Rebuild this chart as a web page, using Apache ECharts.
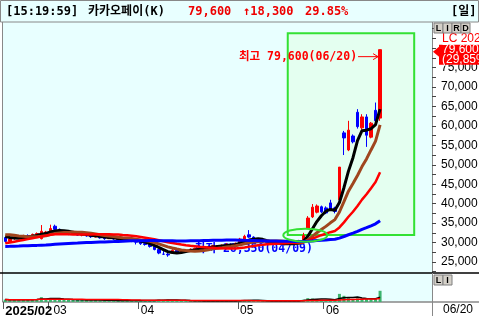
<!DOCTYPE html>
<html><head><meta charset="utf-8">
<script src="https://cdn.jsdelivr.net/npm/echarts@6/dist/echarts.min.js"></script>
<style>html,body{margin:0;padding:0;background:#fff;overflow:hidden}#c{width:479px;height:316px}</style>
</head><body><div id="c"></div>
<script>
// ---------------- data ----------------
const dates = [
 '2025/02/17','2025/02/18','2025/02/19','2025/02/20','2025/02/21','2025/02/24','2025/02/25','2025/02/26','2025/02/27','2025/02/28',
 '2025/03/04','2025/03/05','2025/03/06','2025/03/07','2025/03/10','2025/03/11','2025/03/12','2025/03/13','2025/03/14','2025/03/17',
 '2025/03/18','2025/03/19','2025/03/20','2025/03/21','2025/03/24','2025/03/25','2025/03/26','2025/03/27','2025/03/28','2025/03/31',
 '2025/04/01','2025/04/02','2025/04/03','2025/04/04','2025/04/07','2025/04/08','2025/04/09','2025/04/10','2025/04/11','2025/04/14',
 '2025/04/15','2025/04/16','2025/04/17','2025/04/18','2025/04/21','2025/04/22','2025/04/23','2025/04/24','2025/04/25','2025/04/28',
 '2025/04/29','2025/04/30',
 '2025/05/02','2025/05/07','2025/05/08','2025/05/09','2025/05/12','2025/05/13','2025/05/14','2025/05/15','2025/05/16','2025/05/19',
 '2025/05/20','2025/05/21','2025/05/22','2025/05/23','2025/05/26','2025/05/27','2025/05/28','2025/05/29','2025/05/30',
 '2025/06/02','2025/06/04','2025/06/05','2025/06/09','2025/06/10','2025/06/11','2025/06/12','2025/06/13','2025/06/16','2025/06/17',
 '2025/06/18','2025/06/19','2025/06/20'
];
const opens = [
 31300,30300,31000,31400,31300,31800,31500,32100,31000,32000,
 33000,34200,33400,32900,32500,32200,32400,31900,32000,31700,
 31400,31600,31200,31000,31300,30900,30800,30600,30900,30400,
 30100,29700,29500,29000,28200,27000,27000,27600,28000,27600,
 27800,28100,28300,28500,28700,29000,28900,29200,29100,29300,
 29600,29500,
 29800,30900,32000,31400,30700,30300,30100,29900,29800,29700,
 29600,29500,29700,29900,30400,33700,36600,37800,39200,
 38900,40200,38900,41000,58200,53800,57400,63500,59500,62300,
 57100,64000,62000
];
const highs = [
 31500,31200,31600,31800,32000,32100,32300,32600,34500,33000,
 34600,34600,33600,33200,32700,32800,32500,32300,32100,31900,
 31900,31700,31400,31500,31400,31100,31000,31200,31000,30600,
 30300,30000,29700,29200,28400,27800,27300,28300,28200,28000,
 28300,28500,28700,28900,29200,29200,29400,29300,29500,29800,
 29800,30000,
 31200,32000,33200,31600,30900,30500,30300,30100,30000,29900,
 29800,29900,30100,30700,32500,36800,39900,39800,39500,
 39300,41000,39200,49400,58700,61300,57800,64300,63000,63000,
 61000,66000,79600
];
const lows = [
 30000,30100,30700,31000,31100,31300,31400,31800,30800,31800,
 32800,33200,32600,32300,31900,32000,31700,31600,31500,31200,
 31300,31000,30700,30900,30700,30500,30300,30500,30100,29500,
 29400,29200,28700,28000,27000,26800,26350,27400,27400,27300,
 27600,27900,28100,28300,28500,28700,28800,28900,29000,29200,
 29300,29400,
 29700,30700,31200,30600,30200,29900,29700,29600,29500,29400,
 29300,29400,29600,29800,30300,33500,36300,37500,37600,
 37300,38300,37500,40500,52500,53500,55500,59300,59000,54600,
 56800,60500,61300
];
const closes = [
 30300,30900,31400,31300,31800,31500,32100,32300,32900,32700,
 33600,33400,32900,32500,32200,32400,31900,32000,31700,31500,
 31600,31200,31000,31300,30900,30800,30600,30900,30400,30100,
 29700,29500,29000,28200,27300,27000,26800,28000,27600,27800,
 28100,28300,28500,28700,29000,28900,29200,29100,29300,29600,
 29500,29800,
 30900,31600,31400,30700,30300,30100,29900,29800,29700,29600,
 29500,29700,29900,30400,31800,36300,39100,39400,37900,
 37600,38600,38000,49400,56900,58900,55900,59800,62300,57600,
 60700,61300,79600
];
// closes before the visible window (only feed the moving averages)
const earlierCloses = [
 29500,29300,29000,28800,29200,29600,29900,29700,29400,29100,
 28900,28600,28300,28500,28800,28400,28100,27900,28200,28600,
 28900,29000,28700,28400,28100,27800,27600,27900,28300,28600,
 28800,28500,28200,28000,27800,28100,28400,28700,28500,28300,
 26800,27000,26900,27200,27400,27600,27800,28100,28500,28700,
 31000,32500,33000,32800,32700,
 32400,32000,31800,31500
];
const volumes = [
 1300,1100,1200,1000,1400,1100,1300,1500,2500,1600,
 2000,1700,1300,1200,1100,1200,1000,1100,1000,900,
 1000,900,800,900,800,800,700,800,700,800,
 700,700,800,900,1200,1100,1200,1000,800,700,
 600,600,600,500,600,500,600,500,500,600,
 500,600,
 900,1000,1100,700,600,500,500,500,500,500,
 500,600,600,700,1200,2000,1800,1500,1200,
 1100,1300,1000,4200,3200,2000,1400,1900,1700,1900,
 1300,1500,5800
];
const maPeriods = [5, 10, 20, 60];
const maColors = ['#000000', '#a0461e', '#ff0000', '#0000ff'];
const volMaPeriods = [5, 20];
const volMaColors = ['#000000', '#ff0000'];
const priceLabels = [25000,30000,35000,40000,45000,50000,55000,60000,65000,70000,75000];
const priceTicks = [22500,25000,27500,30000,32500,35000,37500,40000,42500,45000,47500,50000,52500,55000,57500,60000,62500,65000,67500,70000,72500,75000,77500,80000,82500,85000];
const headerTime = '[15:19:59]';
const stockName = '카카오페이(K)';
const headerPrice = '79,600';
const headerChange = '↑18,300';
const headerRate = '29.85%';
const periodLabel = '[일]';
const tagLines = ['79,600', '(29,85%)'];
const lcText = 'LC 2025';
const highNote = '최고 79,600(06/20)';
const lowNote = '최저 26,350(04/09)';

// ---------------- build ----------------
const N = dates.length;
const PAD = 11;
const cats = dates.concat(Array.from({length: PAD}, (_, k) => '+' + (k + 1)));
const candle = dates.map((d, i) => [opens[i], closes[i], lows[i], highs[i]]);
function ma(n, vals, prefix) {
  const all = prefix.concat(vals), off = prefix.length;
  return vals.map((_, i) => {
    const j = i + off, s = Math.max(0, j - n + 1);
    let sum = 0; for (let k = s; k <= j; k++) sum += all[k];
    return Math.round(sum / (j - s + 1));
  });
}
const monthStarts = new Set();
dates.forEach((d, i) => { if (i === 0 || d.slice(5, 7) !== dates[i - 1].slice(5, 7)) monthStarts.add(i); });

const MONO = 'DejaVu Sans Mono, Noto Sans CJK KR';
const SANS = 'Liberation Sans, Arial, sans-serif';

const series = [{
  type: 'candlestick', xAxisIndex: 0, yAxisIndex: 0, data: candle, barWidth: 3, z: 2,
  itemStyle: {color: '#ff0000', color0: '#0000ff', borderColor: '#ff0000', borderColor0: '#0000ff', borderWidth: 1}
}];
maPeriods.forEach((p, k) => series.push({
  type: 'line', xAxisIndex: 0, yAxisIndex: 0, data: ma(p, closes, earlierCloses), showSymbol: false,
  lineStyle: {color: maColors[k], width: k === 2 ? 2.5 : 3}, z: 3 + k, silent: true
}));
series.push({
  type: 'bar', xAxisIndex: 1, yAxisIndex: 1, data: volumes, barWidth: 3,
  itemStyle: {color: '#3cb46e'}, z: 2
});
volMaPeriods.forEach((p, k) => series.push({
  type: 'line', xAxisIndex: 1, yAxisIndex: 1, data: ma(p, volumes, []), showSymbol: false,
  lineStyle: {color: volMaColors[k], width: 1.5}, z: 3 + k
}));

const chart = echarts.init(document.getElementById('c'), null, {renderer: 'canvas', width: 479, height: 316});
chart.setOption({
  animation: false,
  backgroundColor: '#ffffff',
  grid: [
    {left: 3, right: 47, top: 22, height: 251, show: true, backgroundColor: '#e8ffff', borderWidth: 0, containLabel: false, outerBoundsMode: 'none'},
    {left: 3, right: 47, top: 273, height: 29, show: true, backgroundColor: '#e8ffff', borderWidth: 0, containLabel: false, outerBoundsMode: 'none'}
  ],
  xAxis: [
    {gridIndex: 0, type: 'category', data: cats, boundaryGap: true, axisLine: {show: false}, axisTick: {show: false}, axisLabel: {show: false}, splitLine: {show: false}},
    {gridIndex: 1, type: 'category', data: cats, boundaryGap: true,
     axisLine: {show: true, lineStyle: {color: '#888', width: 1.5}},
     axisTick: {show: true, length: 7, interval: (i) => monthStarts.has(i), lineStyle: {color: '#555'}},
     axisLabel: {show: true, interval: (i) => monthStarts.has(i), align: 'left', margin: 3, color: '#000', fontSize: 12, fontFamily: SANS,
       formatter: (v, i) => i === 0 ? '{b|' + v.slice(0, 7) + '}' : (i === 10 ? '{p|' + v.slice(5, 7) + '}' : v.slice(5, 7)),
       rich: {b: {fontWeight: 'bold', fontSize: 13, fontFamily: SANS, color: '#000'}, p: {padding: [0, 0, 0, 3], fontSize: 12, fontFamily: SANS, color: '#000'}}},
     splitLine: {show: false}}
  ],
  yAxis: [
    {gridIndex: 0, type: 'value', position: 'right', min: 22170, max: 86710,
     axisLine: {show: true, lineStyle: {color: '#888', width: 1}},
     axisTick: {show: true, inside: false, length: 4, customValues: priceTicks, lineStyle: {color: '#444'}},
     axisLabel: {show: true, customValues: priceLabels, margin: 9, color: '#000', fontSize: 12, fontFamily: SANS,
       formatter: (v) => v.toLocaleString('en-US')},
     splitLine: {show: false}},
    {gridIndex: 1, type: 'value', min: 0, max: 15000, position: 'right', axisLine: {show: true, lineStyle: {color: '#888'}}, axisTick: {show: false}, axisLabel: {show: false}, splitLine: {show: false}}
  ],
  series: series
});

// ---------------- decorations ----------------
const hiIdx = highs.indexOf(Math.max(...highs));
const loIdx = lows.indexOf(Math.min(...lows));
const pHi = chart.convertToPixel({gridIndex: 0}, [hiIdx, highs[hiIdx]]);
const pLo = chart.convertToPixel({gridIndex: 0}, [loIdx, lows[loIdx]]);
const pLast = chart.convertToPixel({gridIndex: 0}, [N - 1, closes[N - 1]]);
const boxA = chart.convertToPixel({gridIndex: 0}, [63, 83800]);
const boxB = chart.convertToPixel({gridIndex: 0}, [91, 31950]);
const ell = chart.convertToPixel({gridIndex: 0}, [66, 31900]);

function btn(x, y, w, h, t) {
  return [{type: 'rect', shape: {x: x, y: y, width: w, height: h}, style: {fill: '#d4d0c8', stroke: '#808080', lineWidth: 1}, z: 70},
          {type: 'text', x: x + w / 2, y: y + h / 2 + 0.5, style: {text: t, fill: '#000', font: 'bold 9px ' + SANS, align: 'center', verticalAlign: 'middle'}, z: 71}];
}
const g = [];
// green highlight box (behind marks)
g.push({type: 'rect', shape: {x: boxA[0] - 2, y: boxA[1], width: boxB[0] - boxA[0], height: boxB[1] - boxA[1]}, style: {fill: '#e4fff0', stroke: '#33e133', lineWidth: 2}, z: 1});
g.push({type: 'ellipse', shape: {cx: ell[0] + 2, cy: ell[1], rx: 22, ry: 6.5}, style: {fill: 'none', stroke: '#33e133', lineWidth: 2}, z: 40});
// high annotation
const hy = pHi[1] + 7;
g.push({type: 'text', x: pHi[0] - 23, y: hy, style: {text: highNote, fill: '#ff0000', font: 'bold 11.5px ' + MONO, align: 'right', verticalAlign: 'middle'}, z: 50});
g.push({type: 'line', shape: {x1: pHi[0] - 22, y1: hy, x2: pHi[0] - 2, y2: hy}, style: {stroke: '#ff0000', lineWidth: 1}, z: 50});
g.push({type: 'polyline', shape: {points: [[pHi[0] - 7, hy - 3], [pHi[0] - 2, hy], [pHi[0] - 7, hy + 3]]}, style: {stroke: '#ff0000', lineWidth: 1, fill: 'none'}, z: 50});
// low annotation
const ly = pLo[1] - 8;
g.push({type: 'text', x: pLo[0] + 27, y: ly, style: {text: lowNote, fill: '#0000ff', font: 'bold 11.5px ' + MONO, align: 'left', verticalAlign: 'middle'}, z: 1.5});
// header
g.push({type: 'rect', shape: {x: 0.5, y: 0.5, width: 478, height: 21.5}, style: {fill: '#e8ffff', stroke: '#888', lineWidth: 1}, z: 60});
const hf = 'bold 12px ' + MONO;
g.push({type: 'text', x: 6, y: 12, style: {text: headerTime, fill: '#000', font: hf, verticalAlign: 'middle'}, z: 61});
g.push({type: 'text', x: 88, y: 12, style: {text: stockName, fill: '#000', font: hf, verticalAlign: 'middle'}, z: 61});
g.push({type: 'text', x: 188, y: 12, style: {text: headerPrice, fill: '#ee0000', font: hf, verticalAlign: 'middle'}, z: 61});
g.push({type: 'text', x: 243, y: 12, style: {text: headerChange, fill: '#ee0000', font: hf, verticalAlign: 'middle'}, z: 61});
g.push({type: 'text', x: 305, y: 12, style: {text: headerRate, fill: '#ee0000', font: hf, verticalAlign: 'middle'}, z: 61});
g.push({type: 'text', x: 451, y: 12, style: {text: periodLabel, fill: '#000', font: hf, verticalAlign: 'middle'}, z: 61});
// frame lines
g.push({type: 'line', shape: {x1: 2.5, y1: 22, x2: 2.5, y2: 302}, style: {stroke: '#888', lineWidth: 1}, z: 62});
g.push({type: 'line', shape: {x1: 0, y1: 273, x2: 479, y2: 273}, style: {stroke: '#000', lineWidth: 1.5}, z: 62});
g.push({type: 'line', shape: {x1: 432.5, y1: 273, x2: 432.5, y2: 316}, style: {stroke: '#888', lineWidth: 1}, z: 62});
g.push({type: 'line', shape: {x1: 432, y1: 302, x2: 479, y2: 302}, style: {stroke: '#888', lineWidth: 1.5}, z: 62});
// right side widgets
['L', 'I', 'R', 'D'].forEach((t, k) => g.push(...btn(434 + k * 9, 23, 9, 10, t)));
['L', 'I'].forEach((t, k) => g.push(...btn(434 + k * 9, 275, 9, 10, t)));
g.push({type: 'text', x: 442, y: 38.5, style: {text: lcText, fill: '#ff0000', font: '12px ' + SANS, verticalAlign: 'middle'}, z: 65});
g.push({type: 'rect', shape: {x: 439, y: pLast[1] - 5, width: 40, height: 20}, style: {fill: '#ff0000'}, z: 66});
g.push({type: 'polygon', shape: {points: [[433, pLast[1] + 2], [439, pLast[1] - 3], [439, pLast[1] + 7]]}, style: {fill: '#ff0000'}, z: 66});
g.push({type: 'text', x: 442, y: pLast[1] + 0, style: {text: tagLines[0], fill: '#fff', font: '12px ' + SANS, verticalAlign: 'middle'}, z: 67});
g.push({type: 'text', x: 442, y: pLast[1] + 10, style: {text: tagLines[1], fill: '#fff', font: '12px ' + SANS, verticalAlign: 'middle'}, z: 67});
g.push({type: 'text', x: 443, y: 310, style: {text: dates[N - 1].slice(5), fill: '#000', font: '12px ' + SANS, verticalAlign: 'middle'}, z: 65});
chart.setOption({graphic: {elements: g}});
</script></body></html>
